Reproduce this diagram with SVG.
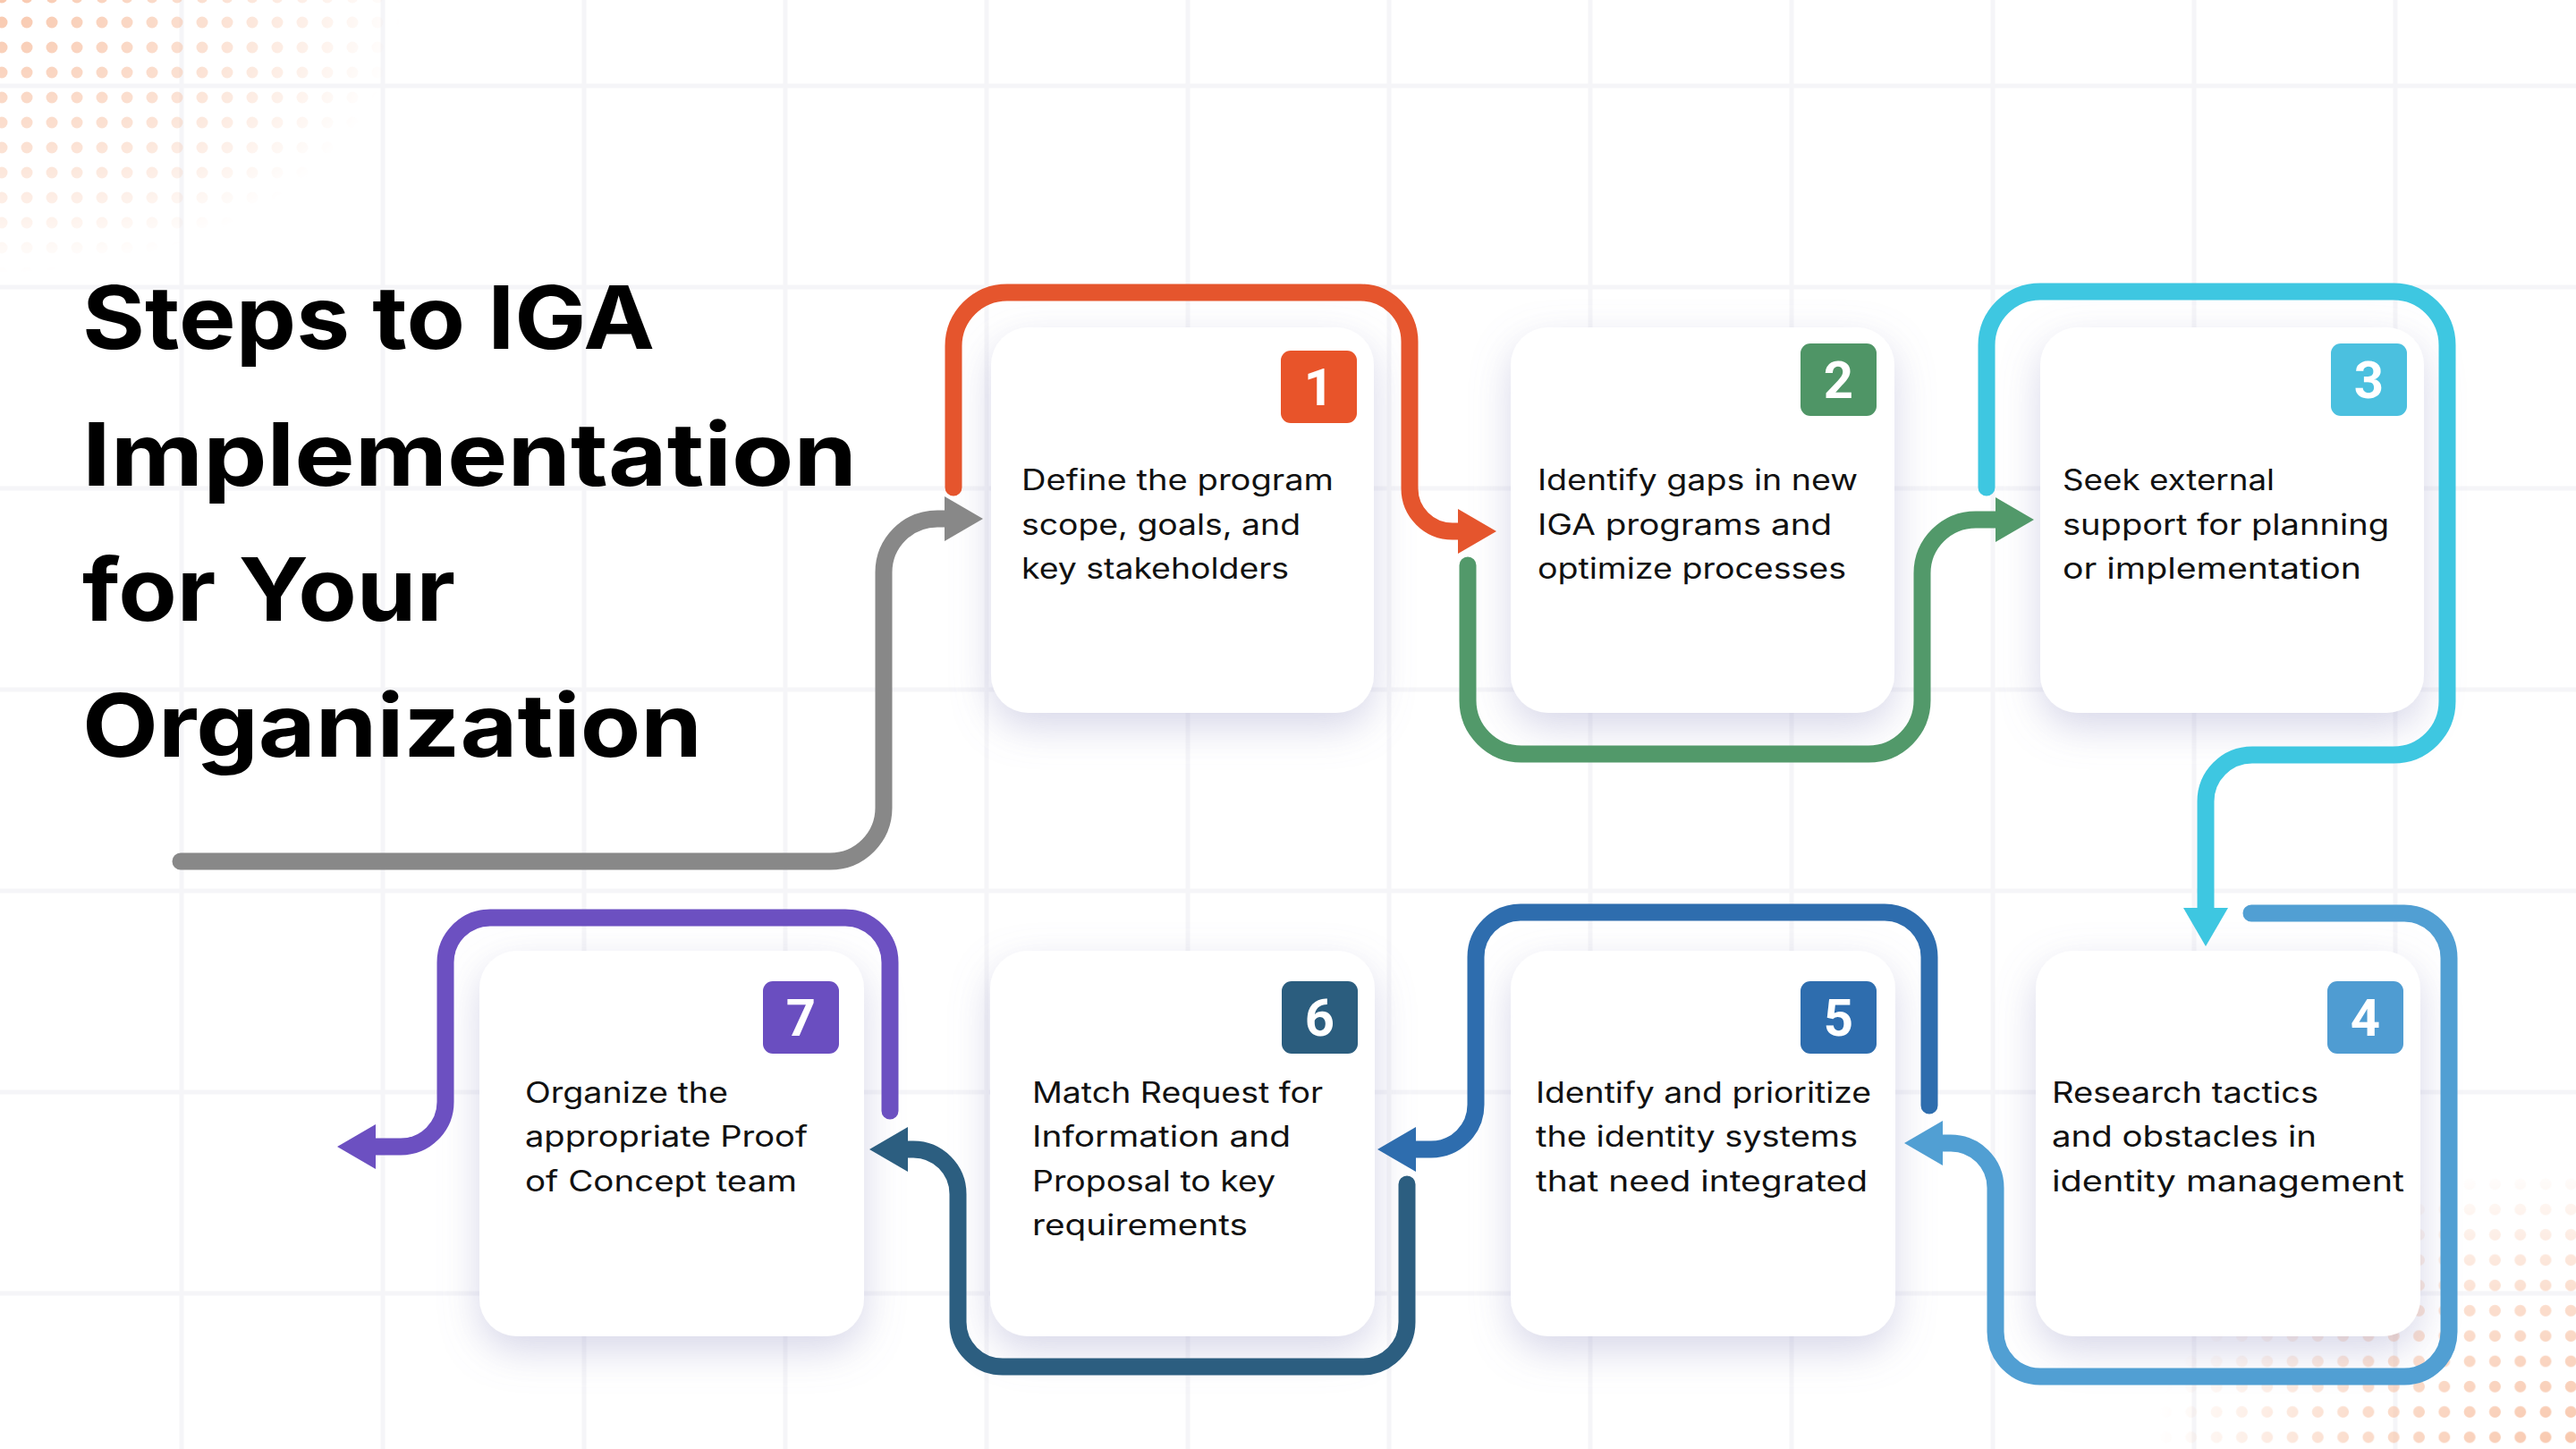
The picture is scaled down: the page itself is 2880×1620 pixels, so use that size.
<svg xmlns="http://www.w3.org/2000/svg" width="2880" height="1620" viewBox="0 0 2880 1620">
<style>
.grid line{stroke:#F5F5F8;stroke-width:5}
.card{fill:#FFFFFF;filter:url(#shadow)}
.body{font-family:Inter,"Noto Sans","Liberation Sans",sans-serif;font-size:32px;fill:#111111}
.title{font-family:Inter,"Noto Sans","Liberation Sans",sans-serif;font-size:98px;font-weight:700;fill:#000000}
.num{font-family:Roboto,"Liberation Sans",sans-serif;font-size:58px;font-weight:700;fill:#FFFFFF;text-anchor:middle}
.conn path{fill:none;stroke-width:19;stroke-linecap:round;stroke-linejoin:round}
</style>
<defs>
<filter id="shadow" x="-30%" y="-30%" width="160%" height="170%">
<feDropShadow dx="0" dy="16" stdDeviation="22" flood-color="#8E8EC0" flood-opacity="0.35"/>
</filter>
<pattern id="dotsA" patternUnits="userSpaceOnUse" x="-12" y="-17" width="28" height="28">
<circle cx="14" cy="14" r="6.5" fill="#F7BE9F"/>
</pattern>
<pattern id="dotsB" patternUnits="userSpaceOnUse" x="2" y="8" width="28.3" height="28.3">
<circle cx="14" cy="14" r="6.5" fill="#F7BE9F"/>
</pattern>
<radialGradient id="fadeA" gradientUnits="userSpaceOnUse" cx="0" cy="0" r="450" gradientTransform="scale(1 0.68)">
<stop offset="0" stop-color="#FFFFFF" stop-opacity="0.85"/>
<stop offset="0.55" stop-color="#FFFFFF" stop-opacity="0.45"/>
<stop offset="1" stop-color="#FFFFFF" stop-opacity="0"/>
</radialGradient>
<radialGradient id="fadeB" gradientUnits="userSpaceOnUse" cx="2880" cy="1620" r="470" gradientTransform="translate(0 518.4) scale(1 0.68)">
<stop offset="0" stop-color="#FFFFFF" stop-opacity="0.85"/>
<stop offset="0.55" stop-color="#FFFFFF" stop-opacity="0.5"/>
<stop offset="1" stop-color="#FFFFFF" stop-opacity="0"/>
</radialGradient>
<mask id="maskA"><rect x="0" y="0" width="2880" height="1620" fill="url(#fadeA)"/></mask>
<mask id="maskB"><rect x="0" y="0" width="2880" height="1620" fill="url(#fadeB)"/></mask>
<marker id="mGray" markerUnits="userSpaceOnUse" markerWidth="44" markerHeight="52" viewBox="0 0 44 52" refX="1" refY="26" orient="auto"><path d="M0,1 L43,26 L0,51 Z" fill="#888888"/></marker>
<marker id="mOrange" markerUnits="userSpaceOnUse" markerWidth="44" markerHeight="52" viewBox="0 0 44 52" refX="1" refY="26" orient="auto"><path d="M0,1 L43,26 L0,51 Z" fill="#E5552D"/></marker>
<marker id="mGreen" markerUnits="userSpaceOnUse" markerWidth="44" markerHeight="52" viewBox="0 0 44 52" refX="1" refY="26" orient="auto"><path d="M0,1 L43,26 L0,51 Z" fill="#52996A"/></marker>
<marker id="mCyan" markerUnits="userSpaceOnUse" markerWidth="44" markerHeight="52" viewBox="0 0 44 52" refX="1" refY="26" orient="auto"><path d="M0,1 L43,26 L0,51 Z" fill="#3EC7E1"/></marker>
<marker id="mLight" markerUnits="userSpaceOnUse" markerWidth="44" markerHeight="52" viewBox="0 0 44 52" refX="1" refY="26" orient="auto"><path d="M0,1 L43,26 L0,51 Z" fill="#519FD3"/></marker>
<marker id="mBlue" markerUnits="userSpaceOnUse" markerWidth="44" markerHeight="52" viewBox="0 0 44 52" refX="1" refY="26" orient="auto"><path d="M0,1 L43,26 L0,51 Z" fill="#2E6DAE"/></marker>
<marker id="mTeal" markerUnits="userSpaceOnUse" markerWidth="44" markerHeight="52" viewBox="0 0 44 52" refX="1" refY="26" orient="auto"><path d="M0,1 L43,26 L0,51 Z" fill="#2C5E80"/></marker>
<marker id="mPurple" markerUnits="userSpaceOnUse" markerWidth="44" markerHeight="52" viewBox="0 0 44 52" refX="1" refY="26" orient="auto"><path d="M0,1 L43,26 L0,51 Z" fill="#6C50C1"/></marker>
</defs>

<rect x="0" y="0" width="2880" height="1620" fill="#FFFFFF"/>
<g class="grid">
<line x1="203" y1="0" x2="203" y2="1620"/><line x1="428" y1="0" x2="428" y2="1620"/><line x1="653" y1="0" x2="653" y2="1620"/><line x1="878" y1="0" x2="878" y2="1620"/><line x1="1103" y1="0" x2="1103" y2="1620"/><line x1="1328" y1="0" x2="1328" y2="1620"/><line x1="1553" y1="0" x2="1553" y2="1620"/><line x1="1778" y1="0" x2="1778" y2="1620"/><line x1="2003" y1="0" x2="2003" y2="1620"/><line x1="2228" y1="0" x2="2228" y2="1620"/><line x1="2453" y1="0" x2="2453" y2="1620"/><line x1="2678" y1="0" x2="2678" y2="1620"/>
<line x1="0" y1="96" x2="2880" y2="96"/><line x1="0" y1="321" x2="2880" y2="321"/><line x1="0" y1="546" x2="2880" y2="546"/><line x1="0" y1="771" x2="2880" y2="771"/><line x1="0" y1="996" x2="2880" y2="996"/><line x1="0" y1="1221" x2="2880" y2="1221"/><line x1="0" y1="1446" x2="2880" y2="1446"/>
</g>
<rect x="0" y="0" width="480" height="330" fill="url(#dotsA)" mask="url(#maskA)"/>
<rect x="2380" y="1280" width="500" height="340" fill="url(#dotsB)" mask="url(#maskB)"/>

<g id="title">
<text class="title" x="92" y="390" textLength="640" lengthAdjust="spacingAndGlyphs">Steps to IGA</text>
<text class="title" x="92" y="543" textLength="866" lengthAdjust="spacingAndGlyphs">Implementation</text>
<text class="title" x="92" y="694" textLength="417" lengthAdjust="spacingAndGlyphs">for Your</text>
<text class="title" x="92" y="846" textLength="693" lengthAdjust="spacingAndGlyphs">Organization</text>
</g>

<g id="step1">
<rect class="card" x="1108" y="366" width="428" height="431" rx="42"/>
<rect x="1432" y="392" width="85" height="81" rx="11" fill="#E8542A"/>
<text class="num" x="1474.5" y="453">1</text>
<text class="body" x="1142" y="548" textLength="349" lengthAdjust="spacingAndGlyphs">Define the program</text>
<text class="body" x="1142" y="598" textLength="312" lengthAdjust="spacingAndGlyphs">scope, goals, and</text>
<text class="body" x="1142" y="647" textLength="299" lengthAdjust="spacingAndGlyphs">key stakeholders</text>
</g>
<g id="step2">
<rect class="card" x="1689" y="366" width="429" height="431" rx="42"/>
<rect x="2013" y="384" width="85" height="81" rx="11" fill="#4F9566"/>
<text class="num" x="2055.5" y="445">2</text>
<text class="body" x="1719" y="548" textLength="358" lengthAdjust="spacingAndGlyphs">Identify gaps in new</text>
<text class="body" x="1719" y="598" textLength="329" lengthAdjust="spacingAndGlyphs">IGA programs and</text>
<text class="body" x="1719" y="647" textLength="345" lengthAdjust="spacingAndGlyphs">optimize processes</text>
</g>
<g id="step3">
<rect class="card" x="2281" y="366" width="429" height="431" rx="42"/>
<rect x="2606" y="384" width="85" height="81" rx="11" fill="#4BC0DF"/>
<text class="num" x="2648.5" y="445">3</text>
<text class="body" x="2306" y="548" textLength="237" lengthAdjust="spacingAndGlyphs">Seek external</text>
<text class="body" x="2306" y="598" textLength="365" lengthAdjust="spacingAndGlyphs">support for planning</text>
<text class="body" x="2306" y="647" textLength="334" lengthAdjust="spacingAndGlyphs">or implementation</text>
</g>
<g id="step4">
<rect class="card" x="2276" y="1063" width="430" height="431" rx="42"/>
<rect x="2602" y="1097" width="85" height="81" rx="11" fill="#4F9CD2"/>
<text class="num" x="2644.5" y="1158">4</text>
<text class="body" x="2294" y="1233" textLength="298" lengthAdjust="spacingAndGlyphs">Research tactics</text>
<text class="body" x="2294" y="1282" textLength="296" lengthAdjust="spacingAndGlyphs">and obstacles in</text>
<text class="body" x="2294" y="1332" textLength="394" lengthAdjust="spacingAndGlyphs">identity management</text>
</g>
<g id="step5">
<rect class="card" x="1689" y="1063" width="430" height="431" rx="42"/>
<rect x="2013" y="1097" width="85" height="81" rx="11" fill="#2E6DAE"/>
<text class="num" x="2055.5" y="1158">5</text>
<text class="body" x="1717" y="1233" textLength="375" lengthAdjust="spacingAndGlyphs">Identify and prioritize</text>
<text class="body" x="1717" y="1282" textLength="360" lengthAdjust="spacingAndGlyphs">the identity systems</text>
<text class="body" x="1717" y="1332" textLength="371" lengthAdjust="spacingAndGlyphs">that need integrated</text>
</g>
<g id="step6">
<rect class="card" x="1107" y="1063" width="430" height="431" rx="42"/>
<rect x="1433" y="1097" width="85" height="81" rx="11" fill="#2B5D7E"/>
<text class="num" x="1475.5" y="1158">6</text>
<text class="body" x="1154" y="1233" textLength="325" lengthAdjust="spacingAndGlyphs">Match Request for</text>
<text class="body" x="1154" y="1282" textLength="289" lengthAdjust="spacingAndGlyphs">Information and</text>
<text class="body" x="1154" y="1332" textLength="272" lengthAdjust="spacingAndGlyphs">Proposal to key</text>
<text class="body" x="1154" y="1381" textLength="241" lengthAdjust="spacingAndGlyphs">requirements</text>
</g>
<g id="step7">
<rect class="card" x="536" y="1063" width="430" height="431" rx="42"/>
<rect x="853" y="1097" width="85" height="81" rx="11" fill="#6A4EC0"/>
<text class="num" x="895.5" y="1158">7</text>
<text class="body" x="587" y="1233" textLength="227" lengthAdjust="spacingAndGlyphs">Organize the</text>
<text class="body" x="587" y="1282" textLength="316" lengthAdjust="spacingAndGlyphs">appropriate Proof</text>
<text class="body" x="587" y="1332" textLength="304" lengthAdjust="spacingAndGlyphs">of Concept team</text>
</g>

<g class="conn" id="connectors">
<path d="M202,963 H928 A60,60 0 0 0 988,903 V640 A60,60 0 0 1 1048,580 H1057" stroke="#888888" marker-end="url(#mGray)"/>
<path d="M1066,545 V387 A60,60 0 0 1 1126,327 H1521 A55,55 0 0 1 1576,382 V546 A48,48 0 0 0 1624,594 H1631" stroke="#E5552D" marker-end="url(#mOrange)"/>
<path d="M1641,632 V783 A60,60 0 0 0 1701,843 H2089 A60,60 0 0 0 2149,783 V641 A60,60 0 0 1 2209,581 H2232" stroke="#52996A" marker-end="url(#mGreen)"/>
<path d="M2221,545 V386 A60,60 0 0 1 2281,326 H2676 A60,60 0 0 1 2736,386 V784 A60,60 0 0 1 2676,844 H2518 A52,52 0 0 0 2466,896 V1016" stroke="#3EC7E1" marker-end="url(#mCyan)"/>
<path d="M2517,1021 H2688 A50,50 0 0 1 2738,1071 V1489 A50,50 0 0 1 2688,1539 H2281 A50,50 0 0 1 2231,1489 V1328 A50,50 0 0 0 2181,1278 H2171" stroke="#519FD3" marker-end="url(#mLight)"/>
<path d="M2157,1236 V1070 A50,50 0 0 0 2107,1020 H1700 A50,50 0 0 0 1650,1070 V1235 A50,50 0 0 1 1600,1285 H1582" stroke="#2E6DAE" marker-end="url(#mBlue)"/>
<path d="M1573,1324 V1478 A50,50 0 0 1 1523,1528 H1121 A50,50 0 0 1 1071,1478 V1335 A50,50 0 0 0 1021,1285 H1014" stroke="#2C5E80" marker-end="url(#mTeal)"/>
<path d="M995,1242 V1076 A50,50 0 0 0 945,1026 H548 A50,50 0 0 0 498,1076 V1232 A50,50 0 0 1 448,1282 H419" stroke="#6C50C1" marker-end="url(#mPurple)"/>
</g>
</svg>
